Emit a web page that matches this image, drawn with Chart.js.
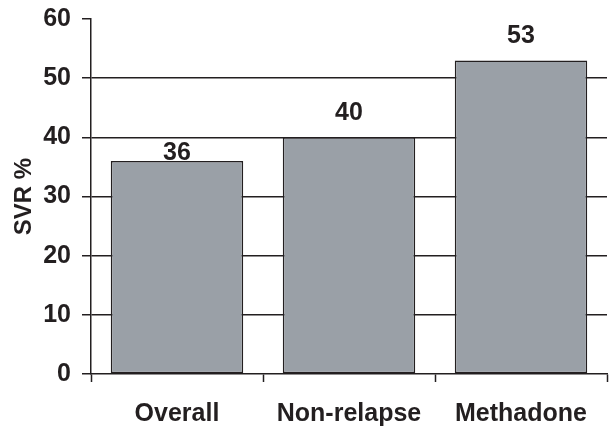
<!DOCTYPE html>
<html>
<head>
<meta charset="UTF-8" />
<script src="https://cdn.jsdelivr.net/npm/chart.js"></script>
<style>
    body { margin: 0; background: #fff; }
    #wrap { width: 612px; height: 426px; }
</style>
</head>
<body>
<div id="wrap"><canvas id="c"></canvas></div>
<script>
const categories = ['Overall', 'Non-relapse', 'Methadone'];
const svr = [36, 40, 53];
const yTicks = [0, 10, 20, 30, 40, 50, 60];

const ink = '#231f20';
const fontFamily = '"Liberation Sans", Arial, sans-serif';

// labels over bars, the first one sits right on its bar
const labelOffsets = [1, 17, 17];

const valueLabels = {
    id: 'valueLabels',
    afterDatasetsDraw(chart) {
        const ctx = chart.ctx;
        const meta = chart.getDatasetMeta(0);
        ctx.save();
        ctx.font = 'bold 25px ' + fontFamily;
        ctx.fillStyle = ink;
        ctx.textAlign = 'center';
        ctx.textBaseline = 'alphabetic';
        meta.data.forEach((bar, i) => {
            ctx.fillText(String(svr[i]), bar.x, bar.y - labelOffsets[i]);
        });
        ctx.restore();
    }
};

new Chart(document.getElementById('c'), {
    type: 'bar',
    data: {
        labels: categories,
        datasets: [{
            data: svr,
            backgroundColor: '#9aa0a7',
            borderColor: ink,
            borderWidth: 1.5,
            borderSkipped: false,
            categoryPercentage: 1,
            barPercentage: 0.77
        }]
    },
    options: {
        responsive: true,
        maintainAspectRatio: false,
        animation: false,
        layout: { padding: { top: 19, right: 5, left: 0, bottom: 0 } },
        plugins: { legend: { display: false }, tooltip: { enabled: false } },
        scales: {
            x: {
                afterFit: s => { s.height = 52; },
                grid: {
                    offset: true,
                    drawOnChartArea: false,
                    drawTicks: true,
                    tickLength: 8,
                    tickColor: ink,
                    tickWidth: 1.5
                },
                border: { display: true, color: ink, width: 1.5 },
                ticks: {
                    color: ink,
                    padding: 17,
                    font: { family: fontFamily, size: 25, weight: 'bold' }
                }
            },
            y: {
                min: 0,
                max: 60,
                afterFit: s => { s.width = 91; s.paddingTop = 0; s.paddingBottom = 0; },
                afterBuildTicks: s => { s.ticks = yTicks.map(v => ({ value: v })); },
                grid: {
                    color: c => (c.tick && (c.tick.value === 60 || c.tick.value === 0)) ? 'rgba(0,0,0,0)' : ink,
                    lineWidth: 1.5,
                    tickLength: 9,
                    tickColor: ink,
                    tickWidth: 1.5
                },
                border: { display: true, color: ink, width: 1.5 },
                ticks: {
                    color: ink,
                    padding: 11,
                    font: { family: fontFamily, size: 25, weight: 'bold' }
                },
                title: {
                    display: true,
                    text: 'SVR %',
                    color: ink,
                    padding: { top: 10, bottom: 0 },
                    font: { family: fontFamily, size: 24, weight: 'bold' }
                }
            }
        }
    },
    plugins: [valueLabels]
});
</script>
</body>
</html>
